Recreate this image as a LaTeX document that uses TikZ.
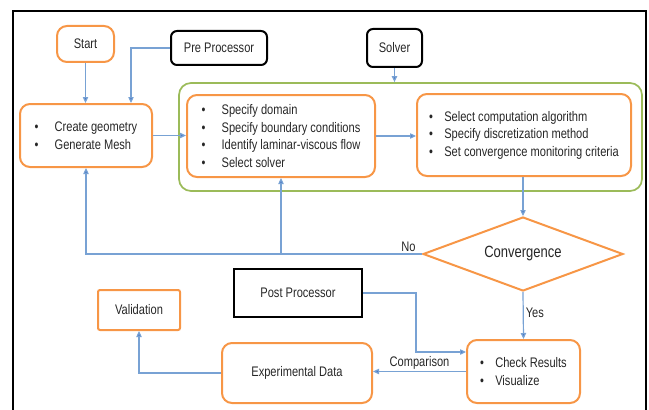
\documentclass[tikz,border=0pt]{standalone}
\usepackage{fontspec}
\setmainfont[FakeStretch=0.8]{Liberation Sans}
\usepackage{tikz}
\usetikzlibrary{arrows.meta,shapes.geometric,calc}

\definecolor{boxorange}{RGB}{247,150,70}
\definecolor{boxgreen}{RGB}{155,187,89}
\definecolor{flowblue}{RGB}{120,162,212}
\definecolor{tipblue}{RGB}{68,114,196}

\newcommand{\bitem}[1][15pt]{\makebox[#1][l]{\textbullet}}

\tikzset{
  orangebox/.style={draw=boxorange,line width=1.5pt,rounded corners=7.5pt,inner sep=0pt,
    font=\fontsize{10.4}{13.1}\selectfont,align=left,text=black!85},
  blackbox/.style={draw=black,line width=1.5pt,rounded corners=4.5pt,inner sep=0pt,
    font=\fontsize{10.4}{13.1}\selectfont,text=black!85},
  flow/.style={draw=flowblue,line width=0.9pt,-{Triangle[length=4.5pt,width=4pt,fill=tipblue]}},
  flowlabel/.style={font=\fontsize{10.4}{12}\selectfont,text=black!85,inner sep=1.5pt}
}

\begin{document}
\begin{tikzpicture}[x=0.75pt,y=0.75pt,yscale=-1,xscale=1]
  \useasboundingbox (0,0) rectangle (649,410);
  %outer frame
  \draw [line width=0.9pt] (13,11) rectangle (646,416);

  %Solver group frame
  \node [draw=boxgreen,line width=1.3pt,rounded corners=9pt,minimum width=347.25pt,minimum height=81pt] (frame) at (410.5,137) {};

  % top boxes
  \node [orangebox,minimum width=42.75pt,minimum height=27pt,align=center] (start) at (85.5,44) {Start};
  \node [blackbox,minimum width=72pt,minimum height=25.5pt] (pre) at (219,48) {Pre Processor};
  \node [blackbox,minimum width=41.25pt,minimum height=28.5pt] (solver) at (394.5,48) {Solver};

  % process boxes
  \node [orangebox,minimum width=99pt,minimum height=47.25pt] (geom) at (86,135.5)
    {\bitem Create geometry\\ \bitem Generate Mesh};
  \node [orangebox,minimum width=141pt,minimum height=61.5pt] (setup) at (281,136)
    {\bitem Specify domain\\ \bitem Specify boundary conditions\\ \bitem Identify laminar-viscous flow\\ \bitem Select solver};
  \node [orangebox,minimum width=160.5pt,minimum height=61.5pt] (algo) at (524,135)
    {\bitem[9pt] Select computation algorithm\\ \bitem[9pt] Specify discretization method\\ \bitem[9pt] Set convergence monitoring criteria};

  % decision
  \node [diamond,draw=boxorange,line width=1.5pt,inner sep=0pt,aspect=2.7,minimum width=150pt,minimum height=55.5pt,
    font=\fontsize{12.2}{14}\selectfont,text=black!85] (conv) at (523,254) {Convergence};

  % post processing
  \node [draw=black,line width=1.5pt,inner sep=0pt,minimum width=96pt,minimum height=36pt,
    font=\fontsize{10.4}{13.1}\selectfont,text=black!85] (post) at (298,293) {Post Processor};
  \node [orangebox,minimum width=84.75pt,minimum height=47.25pt] (check) at (523.5,371.5)
    {\bitem[9pt] Check Results\\ \bitem[9pt] Visualize};
  \node [orangebox,minimum width=112.5pt,minimum height=45pt,align=center] (expdata) at (297,373) {Experimental Data};
  \node [orangebox,rounded corners=1.5pt,minimum width=61.5pt,minimum height=30pt,align=center] (valid) at (139,310) {Validation};

  % connectors
  \draw [flow] (start.south) -- (start.south |- geom.north);
  \draw [flow] (pre.west) -| ([xshift=-16.5pt]geom.north east);
  \draw [flow] (geom.east) -- (geom.east -| setup.west);
  \draw [flow] (setup.east) -- (setup.east -| algo.west);
  \draw [flow] (solver.south) -- (solver.south |- frame.north);
  \draw [flow] (conv.north |- algo.south) -- (conv.north);
  \draw [flow] (conv.west) -| node [flowlabel,pos=0.02,above] {No} (geom.south);
  \draw [flow] (setup.south |- conv.west) -- (setup.south);
  \draw [flow] (conv.south) -- node [flowlabel,right,pos=0.45] {Yes} (check.north);
  \draw [flow] (post.east) -| ($(check.west)+(-50,-19.5)$) -- ($(check.west)+(0,-19.5)$);
  \draw [flow] (check.west) -- node [flowlabel,above] {Comparison} (check.west -| expdata.east);
  \draw [flow] (expdata.west) -| (valid.south);
\end{tikzpicture}
\end{document}
